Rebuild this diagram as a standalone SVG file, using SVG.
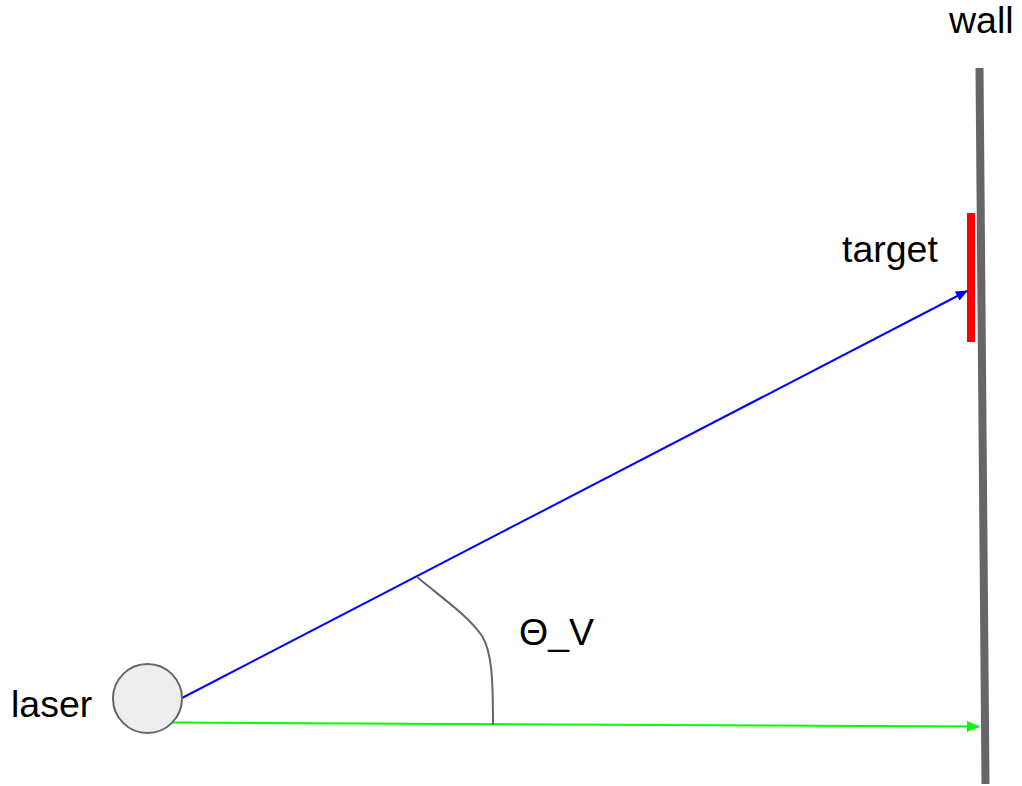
<svg xmlns="http://www.w3.org/2000/svg" width="1022" height="786" viewBox="0 0 1022 786">
<style>
text{font-family:"Liberation Sans",Arial,sans-serif;font-size:37.5px;fill:#000}
.wall{stroke:#666666;stroke-width:8;fill:none}
.target{stroke:#ff0000;stroke-width:8;fill:none}
.beam{stroke-width:2;fill:none}
.angle{stroke:#666666;stroke-width:2;fill:none}
</style>
<defs>
<marker id="ab" markerWidth="12" markerHeight="10" refX="11" refY="5" orient="auto" markerUnits="userSpaceOnUse"><path d="M0,0 L12,5 L0,10 z" fill="#0000ff"/></marker>
<marker id="ag" markerWidth="13" markerHeight="11" refX="12" refY="5.5" orient="auto" markerUnits="userSpaceOnUse"><path d="M0,0 L13,5.5 L0,11 z" fill="#00ff00"/></marker>
</defs>
<rect width="1022" height="786" fill="#ffffff"/>
<g id="wall">
<line class="wall" x1="979.5" y1="68" x2="985.5" y2="784"/>
<text x="949" y="33">wall</text>
</g>
<g id="target">
<line class="target" x1="971" y1="213" x2="971" y2="342"/>
<text x="842" y="262">target</text>
</g>
<g id="connectors">
<line class="beam" stroke="#0000ff" x1="182" y1="698" x2="967" y2="291" marker-end="url(#ab)"/>
<line class="beam" stroke="#00ff00" x1="172" y1="722.5" x2="979" y2="726.5" marker-end="url(#ag)"/>
<path class="angle" d="M417,577 C450,604 470,618 482,636 C492,652 493,680 493,725"/>
</g>
<g id="laser">
<circle cx="147.5" cy="698.5" r="34.5" fill="#eeeeee" stroke="#666666" stroke-width="2"/>
<text x="11" y="717">laser</text>
</g>
<g id="angle-label">
<text x="519" y="645">Θ_V</text>
</g>
</svg>
